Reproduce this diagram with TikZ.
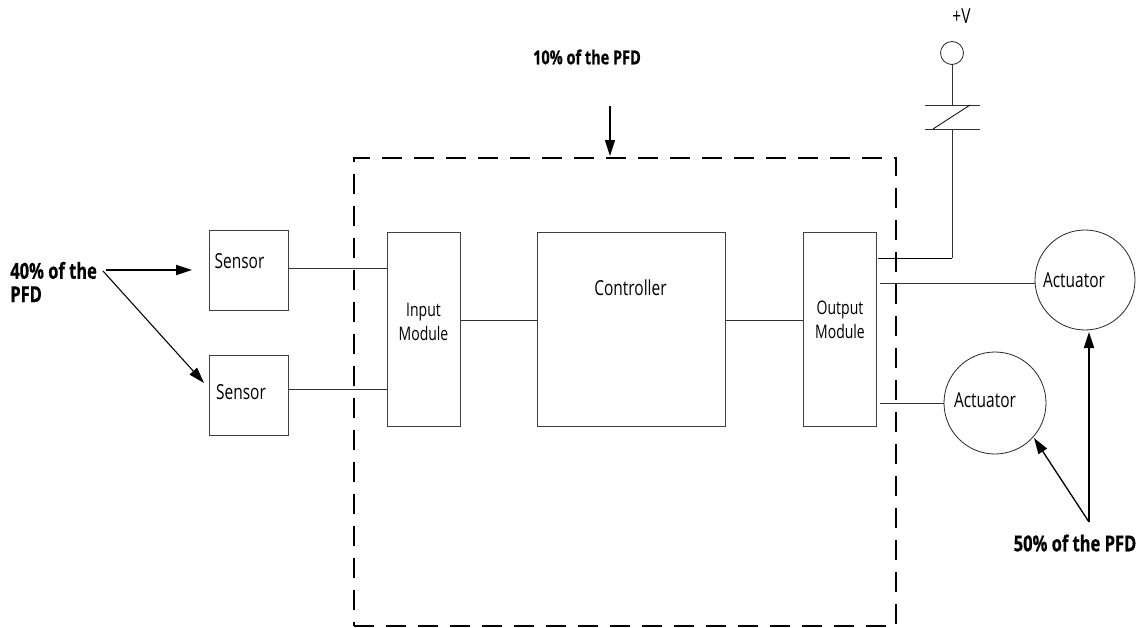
\documentclass[tikz,border=0pt]{standalone}
\usepackage{fontspec}
\setmainfont[FakeStretch=0.75,BoldFeatures={FakeStretch=0.75,FakeBold=0.6}]{Open Sans}
\usetikzlibrary{arrows.meta}
\tikzset{
  x=0.75pt,y=-0.75pt,
  box/.style={draw=black!75,line width=0.75pt,minimum width=#1*0.75pt,inner sep=0pt},
  wire/.style={draw=black!80,line width=0.75pt},
  circ/.style={circle,draw=black!85,line width=0.6pt,inner sep=0pt,minimum size=#1*0.75pt},
  lbl/.style={font=\fontsize{15.5}{18}\selectfont,inner sep=0pt,align=center},
  mlbl/.style={font=\fontsize{14}{18}\selectfont,inner sep=0pt,align=center},
  blbl/.style={font=\fontsize{14.5}{17}\selectfont\bfseries,inner sep=0pt,align=left},
  hlbl/.style={font=\fontsize{16.5}{17.5}\selectfont\bfseries,inner sep=0pt,align=left},
  thickarrow/.style={draw=black,line width=1.5pt,-{Triangle[length=12pt,width=7.5pt]},shorten >=0pt},
  thinarrow/.style={draw=black,line width=0.8pt,-{Triangle[length=12pt,width=7.5pt]}},
}
\begin{document}
\begin{tikzpicture}
\useasboundingbox (0,0) rectangle (1147,628);
% dashed frame
\node (frame) at (625,392) [draw=black,line width=1.2pt,dash pattern=on 15pt off 9pt,minimum width=406.5pt,minimum height=351pt,inner sep=0pt] {};
% blocks
\node (s1) at (248.5,270) [box=79,minimum height=60pt] {};
\node (s2) at (248.5,395.5) [box=79,minimum height=60.7pt] {};
\node (in) at (423.5,329) [box=73,minimum height=145.5pt] {};
\node (ctl) at (631,329) [box=188,minimum height=145.5pt] {};
\node (out) at (839.5,329) [box=73,minimum height=145.5pt] {};
\node (a1) at (1085,280) [circ=100] {};
\node (a2) at (995,403) [circ=102] {};
\node (v) at (952,53) [circ=23] {};
% contact
\coordinate (pt) at (952,105);
\coordinate (pb) at (952,129);
\coordinate (ptl) at (925,105);
\coordinate (ptr) at (980,105);
\coordinate (pbl) at (925,129);
\coordinate (pbr) at (980,129);
\coordinate (sa) at (933,129);
\coordinate (sb) at (970,105);
\coordinate (ot) at (878,258);
\coordinate (om) at (880,283);
\coordinate (ob) at (880,403);
\coordinate (corner) at (952,258);
% wires
\draw[wire] (s1.east |- 0,268) -- (in.west |- 0,268);
\draw[wire] (s2.east |- 0,389) -- (in.west |- 0,389);
\draw[wire] (in.east |- 0,320) -- (ctl.west |- 0,320);
\draw[wire] (ctl.east |- 0,320) -- (out.west |- 0,320);
\draw[wire] (v) -- (pt);
\draw[wire] (ptl) -- (ptr);
\draw[wire] (pbl) -- (pbr);
\draw[draw=black,line width=0.6pt] (sa) -- (sb);
\draw[wire] (pb) -- (corner);
\draw[draw=black,line width=0.75pt] (corner) -- (ot);
\draw[wire] (om) -- (a1.west |- 0,283);
\draw[wire] (ob) -- (a2.west |- 0,403);
% labels
\node[lbl] (ts1) at (239.5,261) {Sensor};
\node[lbl] (ts2) at (241,392.5) {Sensor};
\node[mlbl] (tin) at (423.5,322) {Input\\Module};
\node[lbl] (tctl) at (630.5,288) {Controller};
\node[mlbl] (tout) at (840,320) {Output\\Module};
\node[lbl] (ta1) at (1074,280) {Actuator};
\node[lbl] (ta2) at (985,400) {Actuator};
\node[lbl] (tv) at (961.5,16) {+V};
\node[hlbl,anchor=west] (t40) at (10,282) {40\% of the\\PFD};
\node[blbl] (t10) at (587,57) {10\% of the PFD};
\node[hlbl] (t50) at (1075,543) {50\% of the PFD};
% annotation arrows
\coordinate (l0) at (106,270);
\coordinate (l1) at (103,271);
\coordinate (tgt1) at (192,270);
\coordinate (tgt2) at (204,383);
\coordinate (top0) at (610,106);
\coordinate (top1) at (610,156);
\coordinate (r0) at (1089,522);
\coordinate (r1) at (1089,332);
\coordinate (r2) at (1034,438);
\draw[thickarrow] (l0) -- (tgt1);
\draw[thinarrow] (l1) -- (tgt2);
\draw[thickarrow,line width=1.1pt] (top0) -- (top1);
\draw[thickarrow] (r0) -- (r1);
\draw[thinarrow,line width=1pt] (r0) -- (r2);
\end{tikzpicture}
\end{document}
